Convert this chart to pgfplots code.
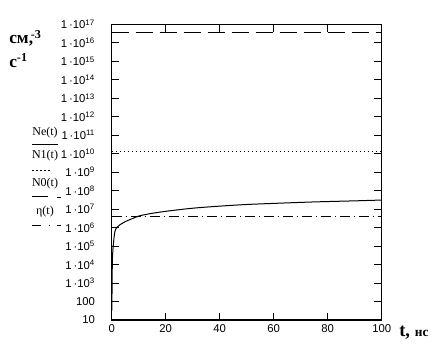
\documentclass[border=0pt]{standalone}
\usepackage{pgfplots}
\pgfplotsset{compat=1.18}
\usepackage{fontspec}
\setmainfont{Liberation Serif}
\newfontfamily\tickfont{Liberation Sans}
\begin{document}
\begin{tikzpicture}[x=0.75pt,y=0.75pt]
\path[use as bounding box] (0,0) rectangle (448,351);
\begin{axis}[
  at={(83.775pt,23.25pt)}, anchor=south west,
  scale only axis, width=202.5pt, height=221.775pt,
  xmin=0, xmax=100, ymode=log, log basis y=10, ymin=10, ymax=1e17,
  xtick={0,20,40,60,80,100},
  ytick={1e1,1e2,1e3,1e4,1e5,1e6,1e7,1e8,1e9,1e10,1e11,1e12,1e13,1e14,1e15,1e16,1e17},
  yticklabels={10,100,1\,·10\textsuperscript{3},1\,·10\textsuperscript{4},1\,·10\textsuperscript{5},1\,·10\textsuperscript{6},1\,·10\textsuperscript{7},1\,·10\textsuperscript{8},1\,·10\textsuperscript{9},1\,·10\textsuperscript{10},1\,·10\textsuperscript{11},1\,·10\textsuperscript{12},1\,·10\textsuperscript{13},1\,·10\textsuperscript{14},1\,·10\textsuperscript{15},1\,·10\textsuperscript{16},1\,·10\textsuperscript{17}},
  yminorticks=false, minor tick num=0,
  tick align=inside, major tick length=5.5pt,
  axis line style={line width=1.1pt},
  every tick/.style={black, line width=0.8pt},
  /pgf/number format/assume math mode=true,
  xticklabel style={font=\tickfont\fontsize{8.5}{10}\selectfont},
  yticklabel style={font=\tickfont\fontsize{8.5}{10}\selectfont, xshift=-9pt},
]
% Ne(t)
\addplot[black, line width=0.75pt, dash pattern=on 12.75pt off 5.25pt] coordinates {(0,3.5e16) (100,3.5e16)};
% N1(t)
\addplot[black, line width=0.75pt, dash pattern=on 0.75pt off 2.25pt] coordinates {(0,1.3e10) (100,1.3e10)};
% eta(t)
\addplot[black, line width=0.75pt, dash pattern=on 7.5pt off 3pt on 0.75pt off 3pt] coordinates {(0,4.2e6) (100,4.2e6)};
% N0(t)
\addplot[black, line width=0.75pt, smooth] coordinates {
 (0.05,32) (0.15,1e3) (0.25,1.6e4) (0.5,8e4) (0.9,3.2e5) (1.2,6.3e5) (1.6,8.9e5)
 (2.2,1.12e6) (3,1.41e6) (5,2.1e6) (7,2.8e6) (10,4.2e6) (14,5.6e6) (20,7.6e6)
 (30,1.12e7) (40,1.45e7) (50,1.78e7) (60,2.04e7) (75,2.45e7) (90,2.8e7) (100,3.1e7)};
\end{axis}
% left labels
\node[anchor=base west, font=\bfseries\fontsize{13}{14}\selectfont, inner sep=0] at (9,351-44) {см\rlap{,}\textsuperscript{\,-3}};
\node[anchor=base west, font=\bfseries\fontsize{13}{14}\selectfont, inner sep=0] at (9,351-67) {с\textsuperscript{-1}};
% legend
\begin{scope}[font=\fontsize{9}{10}\selectfont]
\node at (45,351-132.5) {Ne(t)};
\draw[line width=0.75pt] (32,351-144) -- (58,351-144);
\node at (45,351-155.5) {N1(t)};
\draw[line width=0.75pt, dash pattern=on 1.5pt off 1.5pt] (32,351-170) -- (52,351-170);
\node at (45,351-183.5) {N0(t)};
\draw[line width=0.75pt] (32,351-196) -- (48,351-196);
\draw[line width=0.75pt] (57,351-197) -- (61,351-197);
\node at (45,351-211.5) {η(t)};
\draw[line width=0.75pt] (32,351-225) -- (41,351-225);
\draw[line width=0.75pt] (48.5,351-225) -- (49.5,351-225);
\draw[line width=0.75pt] (57,351-225) -- (61,351-225);
\end{scope}
% x label
\node[anchor=base west, inner sep=0] at (399,351-336) {\bfseries\fontsize{14}{16}\selectfont t, \fontsize{10}{12}\selectfont нс};
\end{tikzpicture}
\end{document}
